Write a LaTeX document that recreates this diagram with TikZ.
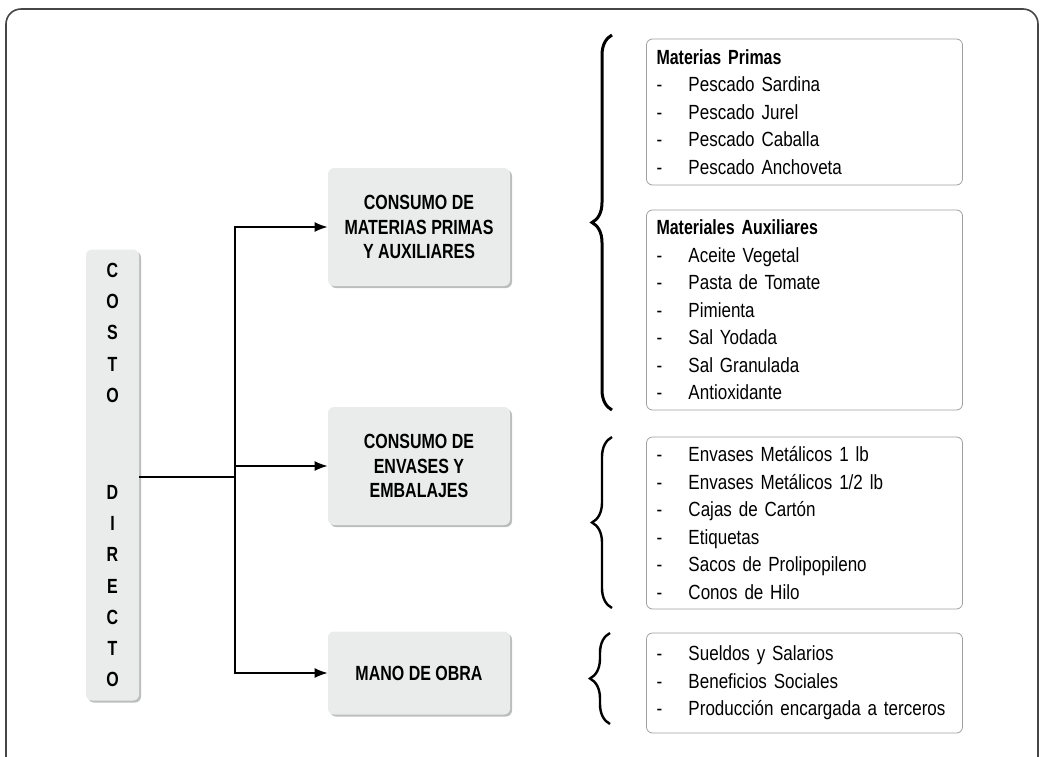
\documentclass[tikz,border=0pt]{standalone}
\usepackage{fontspec}
\setmainfont{Liberation Sans}[FakeStretch=0.83, BoldFeatures={FakeStretch=0.78}]
\usetikzlibrary{arrows.meta,shadows,decorations.pathreplacing}

\definecolor{grisclaro}{RGB}{234,235,235}
\definecolor{sombra}{RGB}{188,189,189}
\definecolor{borde}{RGB}{160,160,160}
\definecolor{marco}{RGB}{70,70,70}
\newcommand{\guion}{\makebox[16pt][l]{-}}

\begin{document}
\begin{tikzpicture}[x=0.5pt,y=-0.5pt,
    caja/.style={rounded corners=3pt, fill=grisclaro, align=center,
      font=\bfseries\fontsize{10.25}{12.25}\selectfont, inner sep=0pt,
      drop shadow={shadow xshift=1pt, shadow yshift=-1pt, fill=sombra, opacity=1}},
    lista/.style={draw=borde, rounded corners=3pt, fill=white, align=left,
      text width=148pt, inner xsep=5pt, inner ysep=0pt, minimum width=158pt,
      font=\fontsize{10.25}{13.75}\selectfont},
    flecha/.style={line width=0.7pt, -{Latex[length=6.5pt,width=5pt]}},
    llave/.style={decorate, decoration={brace, amplitude=10pt}}]
    \useasboundingbox (0,0) rectangle (1040,756);
    % marco exterior
    \draw[marco, line width=0.8pt, rounded corners=7.5pt] (6,9) rectangle (1038,775);

    % columna de la izquierda
    \node[caja, minimum width=26.5pt, minimum height=225.5pt,
      font=\bfseries\fontsize{10.25}{15.6}\selectfont] (costo) at (112.5,475)
      {C\\O\\S\\T\\O\\[33pt]D\\I\\R\\E\\C\\T\\O};

    % cajas del centro
    \node[caja, minimum width=91pt, minimum height=59pt] (materias) at (419,227)
      {CONSUMO DE\\MATERIAS PRIMAS\\Y AUXILIARES};
    \node[caja, minimum width=91pt, minimum height=59pt] (envases) at (419,466)
      {CONSUMO DE\\ENVASES Y\\EMBALAJES};
    \node[caja, minimum width=91pt, minimum height=41.5pt] (obra) at (419,673)
      {MANO DE OBRA};

    % conectores
    \coordinate (tronco) at (235,477);
    \draw[line width=0.7pt] (costo.east |- tronco) -- (tronco);
    \draw[flecha] (tronco) |- (materias.west);
    \draw[flecha] (tronco) |- (envases.west);
    \draw[flecha] (tronco) |- (obra.west);

    % listas de la derecha
    \node[lista, minimum height=73pt] (primas) at (804.5,112)
      {\textbf{Materias Primas}\\
       \guion Pescado Sardina\\
       \guion Pescado Jurel\\
       \guion Pescado Caballa\\
       \guion Pescado Anchoveta};
    \node[lista, minimum height=100pt] (auxiliares) at (804.5,310)
      {\textbf{Materiales Auxiliares}\\
       \guion Aceite Vegetal\\
       \guion Pasta de Tomate\\
       \guion Pimienta\\
       \guion Sal Yodada\\
       \guion Sal Granulada\\
       \guion Antioxidante};
    \node[lista, minimum height=86pt] (embalajes) at (804.5,523)
      {\guion Envases Metálicos 1 lb\\
       \guion Envases Metálicos 1/2 lb\\
       \guion Cajas de Cartón\\
       \guion Etiquetas\\
       \guion Sacos de Prolipopileno\\
       \guion Conos de Hilo};
    \node[lista, minimum height=50pt] (sueldos) at (804.5,683)
      {\guion Sueldos y Salarios\\
       \guion Beneficios Sociales\\
       \guion Producción encargada a terceros};

    % llaves
    \draw[llave, line width=1.5pt] (612,410) -- (612,35);
    \draw[llave, line width=1.2pt] (612,608) -- (612,437);
    \draw[llave, line width=1.2pt] (610,724) -- (610,633);
\end{tikzpicture}
\end{document}
